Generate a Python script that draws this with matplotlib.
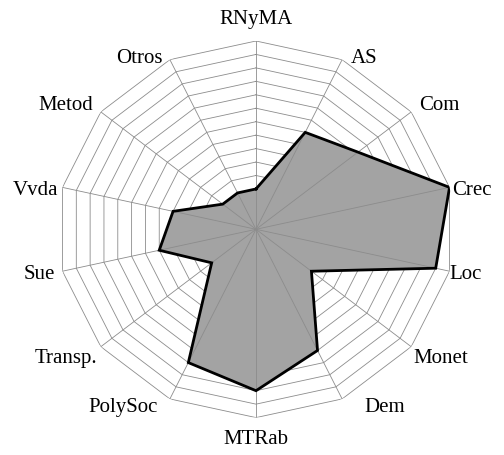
import numpy as np
import matplotlib
matplotlib.use("Agg")
import matplotlib.pyplot as plt

categories = ["RNyMA", "AS", "Com", "Crec", "Loc", "Monet", "Dem",
              "MTRab", "PolySoc", "Transp.", "Sue", "Vvda", "Metod", "Otros"]
values = [3, 8, 9.2, 14, 13, 5, 10, 12, 11, 4, 7, 6, 3, 3]
rings = list(range(1, 15))
rmax = 14

# label placement (pixel offsets from the outer vertex: x gap, y shift)
label_dx = [0, 9, 8, 3, 0, 2, 22, 0, -12, -4, -7, -4, -8, -7]
label_dy = [-21, -1, -6, 3, 3, 12, 9, 22, 9, 12, 3, 3, -6, -1]

n = len(categories)
theta = np.arange(n) * 2 * np.pi / n
theta_c = np.append(theta, theta[0])
vals_c = np.append(values, values[0])

fig = plt.figure(figsize=(5.04, 4.55), dpi=100)
ax = fig.add_axes([0.1141, 0.0822, 0.7877, 0.8277], projection="polar")
ax.set_aspect("auto")
ax.set_theta_offset(np.pi / 2)
ax.set_theta_direction(-1)
ax.set_ylim(0, rmax)
ax.grid(False)
ax.spines["polar"].set_visible(False)
ax.set_xticks([])
ax.set_yticks([])
ax.patch.set_visible(False)

gcol = "#8c8c8c"
for r in rings:
    ax.plot(theta_c, [r] * (n + 1), color=gcol, lw=0.6, zorder=1)

ax.fill(theta_c, vals_c, color="#a3a3a3", zorder=2, lw=0)
for t in theta:
    ax.plot([t, t], [0, rmax], color=gcol, lw=0.6, zorder=3)
ax.plot(theta_c, vals_c, color="black", lw=2.0, zorder=4, solid_joinstyle="miter")

px2pt = 72 / 100
for t, lab, gx, gy in zip(theta, categories, label_dx, label_dy):
    s = np.sin(t)
    ha = "center" if abs(s) < 0.1 else ("left" if s > 0 else "right")
    ax.annotate(lab, xy=(t, rmax), xytext=(gx * px2pt, -gy * px2pt),
                textcoords="offset points", ha=ha, va="center",
                fontsize=15, family="Liberation Serif", annotation_clip=False)

fig.savefig("out.png", dpi=100)
